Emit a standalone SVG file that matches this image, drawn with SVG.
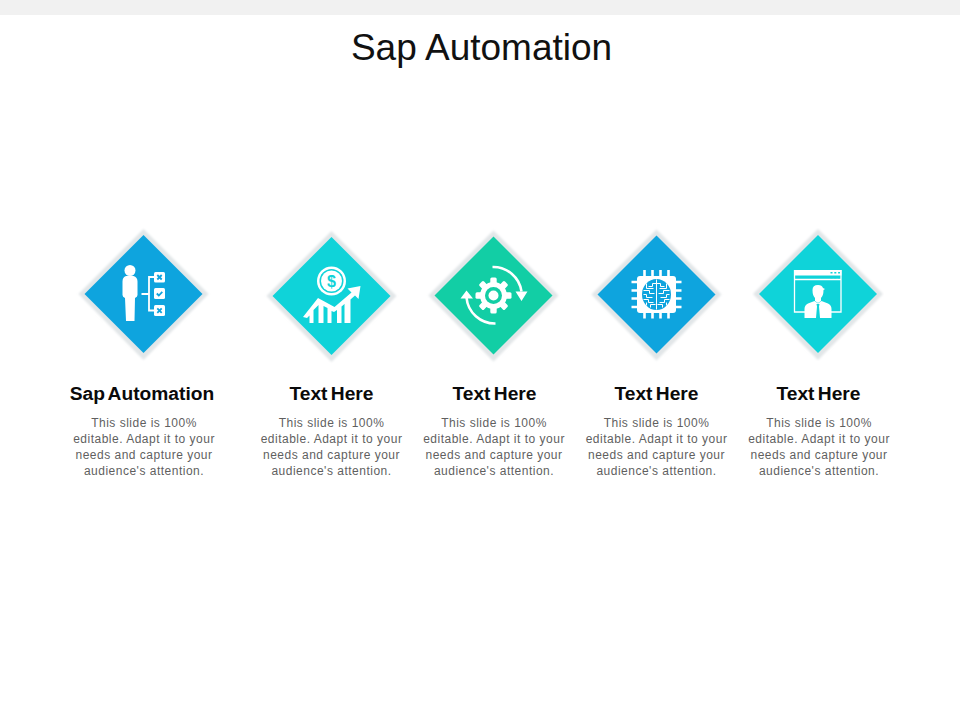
<svg xmlns="http://www.w3.org/2000/svg" width="960" height="720" viewBox="0 0 960 720">
<style>
text{font-family:"Liberation Sans",Arial,sans-serif;text-anchor:middle}
.title{font-size:37px;fill:#111}
.head{font-size:19.200px;font-weight:700;fill:#0a0a0a;word-spacing:-2px}
.body{font-size:12px;fill:#5f5f5f;letter-spacing:.5px}
.w{fill:#fff}
.ws{fill:none;stroke:#fff}
.blue{fill:#0ea4de}.teal{fill:#0fd3d9}.green{fill:#12cea5}
.b-s{fill:none;stroke:#0ea4de}
.t-s{fill:none;stroke:#0fd3d9}
</style>
<defs>
<filter id="soft" x="-10%" y="-10%" width="120%" height="120%"><feGaussianBlur stdDeviation="0.9"/></filter>
<g id="plate"><path d="M0 -65 L65 0 L0 66 L-65 0Z" fill="#e2e6e8" filter="url(#soft)"/></g>
<path id="fillshape" d="M0 -59 L59 0 L0 59 L-59 0Z"/>
<g id="copy">
<text class="body" y="0">This slide is 100%</text>
<text class="body" y="16">editable. Adapt it to your</text>
<text class="body" y="32">needs and capture your</text>
<text class="body" y="48">audience's attention.</text>
</g>
</defs>
<rect x="0" y="0" width="960" height="15" fill="#f1f1f1"/>
<text class="title" x="481.500" y="60">Sap Automation</text>

<g id="node-1">
<g transform="translate(143.500 294)">
<use href="#plate"/><use href="#fillshape" class="blue"/>
<circle class="w" cx="-13.500" cy="-23.500" r="5.500"/>
<path class="w" d="M-17.500 -18 H-10 Q-6 -17 -6 -12.500 V1 Q-6 3 -8.500 4 L-9 27 H-17.500 L-18.500 4 Q-21 3 -21 1 V-12.500 Q-21 -17 -17.500 -18Z"/>
<path class="ws" stroke-width="1.800" d="M-2 0 H5.500 M10.500 -17 H5.500 V16.500 H10.500"/>
<rect class="w" x="10.500" y="-22" width="11" height="10.500" rx="1.500"/>
<rect class="w" x="10.500" y="-6" width="11" height="11" rx="1.500"/>
<rect class="w" x="10.500" y="11" width="11" height="11" rx="1.500"/>
<path class="b-s" stroke-width="1.800" d="M13.800 -19 L18.200 -14.500 M18.200 -19 L13.800 -14.500 M13.800 14.300 L18.200 18.800 M18.200 14.300 L13.800 18.800 M13.300 -.5 L15.300 1.500 L18.800 -2.200"/>
</g>
<text class="head" x="142" y="400">Sap Automation</text>
<use href="#copy" x="144" y="427"/>
</g>

<g id="node-2">
<g transform="translate(331.500 296)">
<use href="#plate"/><use href="#fillshape" class="teal"/>
<circle class="w" cy="-15" r="14.500"/><circle class="teal" cy="-15" r="12"/><circle class="w" cy="-15" r="10.500"/>
<text x="0" y="-9.500" font-size="16" font-weight="700" fill="#0fd3d9">$</text>
<path class="w" d="M-28.500 21 L-13.500 2 L3 11 L20 -3.500 L16 -7.500 L29 -10 L27 3 L23.500 -.5 L19 3.500 V27 H13 V8 L10 10.500 V27 H5.500 V14 L2.500 16 L0 15 V27 H-4 V12 L-8 10 V27 H-13 V9 L-18 14 V27 H-22 V19.500 L-24.500 22Z"/>
</g>
<text class="head" x="331.500" y="400">Text Here</text>
<use href="#copy" x="331.500" y="427"/>
</g>

<g id="node-3">
<g transform="translate(493.500 295.500)">
<use href="#plate"/><use href="#fillshape" class="green"/>
<g class="w">
<circle r="13.500"/>
<rect x="-3.200" y="-18" width="6.400" height="7" rx="1.500"/>
<rect x="-3.200" y="-18" width="6.400" height="7" rx="1.500" transform="rotate(45)"/>
<rect x="-3.200" y="-18" width="6.400" height="7" rx="1.500" transform="rotate(90)"/>
<rect x="-3.200" y="-18" width="6.400" height="7" rx="1.500" transform="rotate(135)"/>
<rect x="-3.200" y="-18" width="6.400" height="7" rx="1.500" transform="rotate(180)"/>
<rect x="-3.200" y="-18" width="6.400" height="7" rx="1.500" transform="rotate(225)"/>
<rect x="-3.200" y="-18" width="6.400" height="7" rx="1.500" transform="rotate(270)"/>
<rect x="-3.200" y="-18" width="6.400" height="7" rx="1.500" transform="rotate(315)"/>
</g>
<circle class="green" r="8.500"/><circle class="w" r="5"/>
<path class="ws" stroke-width="2.600" d="M-1 -28.500 A28.500 28.500 0 0 1 28 -4 M2 28 A28.500 28.500 0 0 1 -27 2"/>
<path class="w" d="M22 -4 H34 L28 5.500Z M-33 3 H-20.500 L-27 -5Z"/>
</g>
<text class="head" x="494.500" y="400">Text Here</text>
<use href="#copy" x="494" y="427"/>
</g>

<g id="node-4">
<g transform="translate(656.500 294.500)">
<use href="#plate"/><use href="#fillshape" class="blue"/>
<path class="ws" stroke-width="2.600" d="M-12 -24.500 V-17 M-4 -24.500 V-17 M4 -24.500 V-17 M12 -24.500 V-17 M-12 17 V24 M-4 17 V24 M4 17 V24 M12 17 V24 M-25 -12.500 H-18 M-25 -4 H-18 M-25 4 H-18 M-25 12.500 H-18 M18 -12.500 H25 M18 -4 H25 M18 4 H25 M18 12.500 H25"/>
<rect class="w" x="-19.500" y="-18.500" width="39" height="37" rx="3"/>
<ellipse class="blue" rx="14.500" ry="15.500"/>
<path class="ws" stroke-width="1" d="M0 -15 V15 M0 -11 H-4 V-8 H-8 M-10 -11 V-6 H-3 M-13 -4 H-7 V-1 H-2 M-13 0 H-10 V3 H-4 M-13 5 H-8 V8 H-3 M-10 11 V8 M-6 13 V10 H-1 M0 -11 H4 V-8 H8 M10 -11 V-6 H3 M13 -4 H7 V-1 H2 M13 0 H10 V3 H4 M13 5 H8 V8 H3 M10 11 V8 M6 13 V10 H1"/>
</g>
<text class="head" x="656.500" y="400">Text Here</text>
<use href="#copy" x="656.500" y="427"/>
</g>

<g id="node-5">
<g transform="translate(818 294)">
<use href="#plate"/><use href="#fillshape" class="teal"/>
<path class="ws" stroke-width="1.300" d="M-23.500 -14.500 H23 M-23.500 -24 V18 H-12 M23 -24 V18 H12"/>
<rect class="w" x="-24" y="-24" width="47.500" height="5.500"/>
<path class="t-s" stroke-width="1.600" stroke-dasharray="2 1.800" d="M12.500 -21.300 H22"/>
<path class="t-s" stroke-width="1.600" stroke-dasharray="2 1.800" d="M12.500 -16.600 H22"/>
<path class="w" d="M-5.500 -4 Q-5.500 -9 0 -9 Q4 -9 5 -6 L7 -5 L5.500 -4 Q5.500 1.500 3 4 V7 L0 9 L-3 7 V4 Q-5.500 1.500 -5.500 -4Z"/>
<path class="w" d="M-3.500 7 L-10 9.500 Q-13.500 11 -13.500 15 V24 H13.500 V15 Q13.500 11 10 9.500 L3.500 7 L0 9.500Z"/>
<path class="teal" d="M-1.500 10 H1.500 L1 12.500 L2 24 H-2 L-1 12.500Z"/>
</g>
<text class="head" x="818.500" y="400">Text Here</text>
<use href="#copy" x="819" y="427"/>
</g>
</svg>
